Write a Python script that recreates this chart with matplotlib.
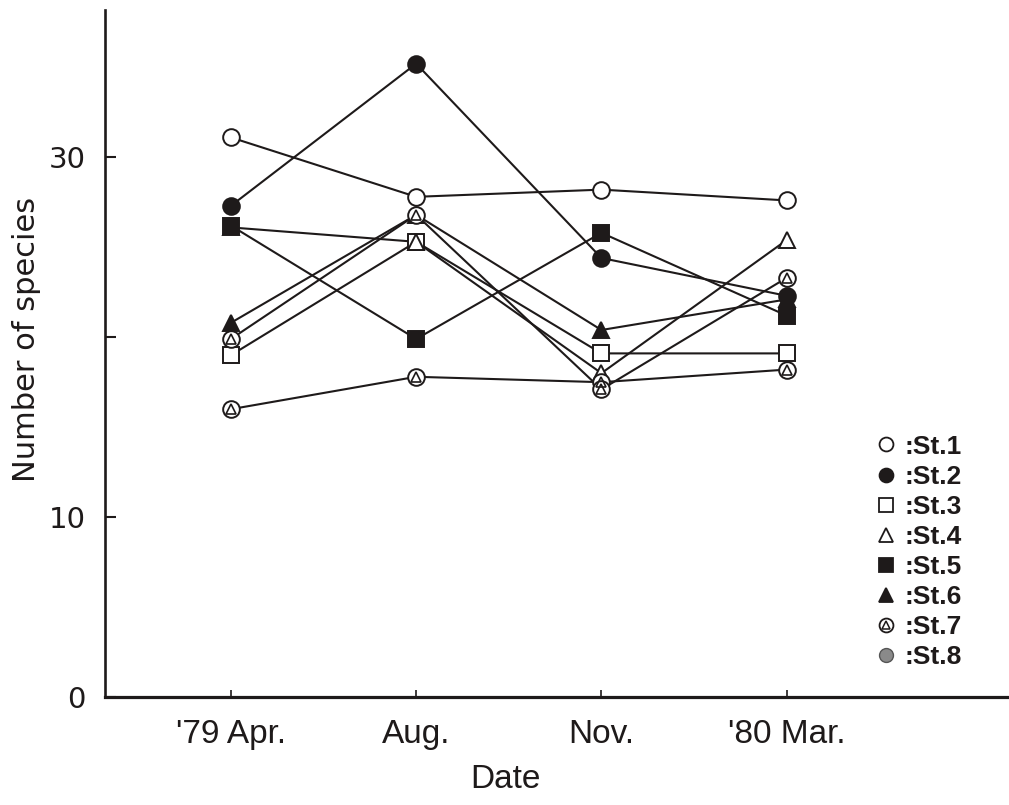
import matplotlib
matplotlib.use("Agg")
import matplotlib.pyplot as plt
from matplotlib.lines import Line2D
from matplotlib.legend_handler import HandlerTuple

dates = ["'79 Apr.", "Aug.", "Nov.", "'80 Mar."]
st1 = [31.1, 27.8, 28.2, 27.6]
st2 = [27.3, 35.2, 24.4, 22.3]
st3 = [19.0, 25.3, 19.1, 19.1]
st4 = [26.1, 25.3, 18.0, 25.4]
st5 = [26.2, 19.9, 25.8, 21.2]
st6 = [20.8, 26.8, 20.4, 22.1]
st7 = [16.0, 17.8, 17.5, 18.2]
st8 = [19.9, 26.8, 17.1, 23.3]
yticks = [0, 10, 20, 30]
ytick_labels = ["0", "10", "", "30"]
legend_labels = ["St.1", "St.2", "St.3", "St.4", "St.5", "St.6", "St.7", "St.8"]

fig = plt.figure(figsize=(10.09, 8.05), dpi=100)
ax = fig.add_axes([0.104, 0.134, 0.896, 0.854])

x = list(range(len(dates)))
ink = "#1e1a1a"
lw = 1.5
ms = 12
mew = 1.4
label_font = ["Liberation Sans", "DejaVu Sans"]

def series(y, marker, face, size=ms):
    ax.plot(x, y, color=ink, lw=lw, zorder=2)
    ax.plot(x, y, linestyle="none", marker=marker, markersize=size,
            markerfacecolor=face, markeredgecolor=ink, markeredgewidth=mew, zorder=3)

series(st1, "o", "white")
series(st2, "o", ink)
series(st3, "s", "white", 11)
series(st4, "^", "white", 12)
series(st5, "s", ink, 11)
series(st6, "^", ink, 12)
series(st7, "o", "white")
ax.plot(x, st7, linestyle="none", marker="^", markersize=7, markerfacecolor="none",
        markeredgecolor=ink, markeredgewidth=1.2, zorder=4)
series(st8, "o", "white")
ax.plot(x, st8, linestyle="none", marker="^", markersize=7, markerfacecolor="none",
        markeredgecolor=ink, markeredgewidth=1.2, zorder=4)

ax.set_xlim(-0.68, 4.2)
ax.set_ylim(0, 38.2)
ax.set_xticks(x)
ax.set_xticklabels(dates, family=label_font, fontsize=24, color=ink)
ax.set_yticks(yticks)
ax.set_yticklabels(ytick_labels, fontsize=21, color=ink)
ax.tick_params(axis="y", direction="in", length=8, width=1.5, pad=14, colors=ink)
ax.tick_params(axis="x", direction="in", length=5, width=1.2, pad=16, colors=ink)
for s in ["top", "right"]:
    ax.spines[s].set_visible(False)
ax.spines["left"].set_linewidth(1.9)
ax.spines["bottom"].set_linewidth(2.3)
ax.spines["left"].set_color(ink)
ax.spines["bottom"].set_color(ink)

ax.set_ylabel("Number of species", fontsize=22, color=ink)
ax.yaxis.set_label_coords(-0.071, 0.52)
ax.set_xlabel("Date", fontsize=24, color=ink, family=label_font)
ax.xaxis.set_label_coords(0.4425, -0.097)

def h(marker, face, size=10):
    return Line2D([], [], linestyle="none", marker=marker, markersize=size,
                  markerfacecolor=face, markeredgecolor=ink, markeredgewidth=1.3)

h7 = (h("o", "white"), Line2D([], [], linestyle="none", marker="^", markersize=5.5,
                             markerfacecolor="none", markeredgecolor=ink, markeredgewidth=1.1))
handles = [h("o", "white"), h("o", ink), h("s", "white", 9.5), h("^", "white"),
           h("s", ink, 9.5), h("^", ink), h7,
           Line2D([], [], linestyle="none", marker="o", markersize=10,
                  markerfacecolor="#8a8a8a", markeredgecolor="#555555", markeredgewidth=1.0)]
labels = [":" + l for l in legend_labels]
leg = ax.legend(handles, labels, handler_map={tuple: HandlerTuple(ndivide=1, pad=0)},
                loc="upper left", bbox_to_anchor=(0.843, 0.4895), bbox_transform=fig.transFigure,
                frameon=False, handlelength=0.9, handletextpad=0.25, labelspacing=0.23,
                prop={"family": label_font, "weight": "bold", "size": 19})
for t in leg.get_texts():
    t.set_color(ink)

fig.savefig("out.png", dpi=100, facecolor="white")
